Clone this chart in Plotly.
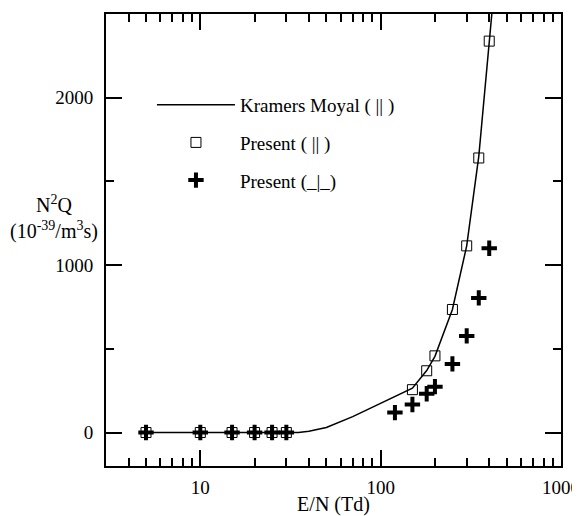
import plotly.graph_objects as go

# Kramers-Moyal curve (parallel)
E_km = [5, 10, 20, 30, 35, 40, 50, 70, 100, 120, 150, 180, 200, 250, 300, 350, 400, 420]
Q_km = [0, 0, 0, 0, 0, 8, 30, 95, 175, 215, 265, 370, 455, 735, 1115, 1650, 2350, 2580]

# Present (parallel) - open squares
E_par = [5, 10, 15, 20, 25, 30, 150, 180, 200, 250, 300, 350, 400]
Q_par = [0, 0, 0, 0, 0, 0, 256, 369, 458, 735, 1115, 1640, 2338]

# Present (perpendicular) - crosses
E_perp = [5, 10, 15, 20, 25, 30, 120, 150, 180, 200, 250, 300, 350, 400]
Q_perp = [0, 0, 0, 0, 0, 0, 119, 167, 232, 274, 410, 577, 804, 1101]

x_tickvals = [10, 100, 1000]
x_ticktext = ["10", "100", "1000"]
x_minor = [4, 5, 6, 7, 8, 9, 20, 30, 40, 50, 60, 70, 80, 90,
           200, 300, 400, 500, 600, 700, 800, 900]
y_tickvals = [0, 1000, 2000]
y_minor = [-500, 500, 1500, 2500]

FONT = "Liberation Serif, Times New Roman, serif"

fig = go.Figure()
fig.add_trace(go.Scatter(
    x=E_km, y=Q_km, mode="lines", name="Kramers Moyal ( || )",
    line=dict(color="black", width=1.5), legendgroup="a", legendrank=1))
fig.add_trace(go.Scatter(
    x=E_perp, y=Q_perp, mode="markers", name="Present (_|_)",
    marker=dict(symbol="cross-thin-open", size=11, color="black",
                line=dict(color="black", width=4)),
    legendgroup="c", legendrank=3))
fig.add_trace(go.Scatter(
    x=E_par, y=Q_par, mode="markers", name="Present ( || )",
    marker=dict(symbol="square-open", size=10, color="black",
                line=dict(color="black", width=1)),
    legendgroup="b", legendrank=2))

# page body has an 8px margin, so the figure is 8px smaller and shifted
fig.update_layout(
    width=572, height=508,
    margin=dict(l=98, r=19, t=6, b=50, autoexpand=False),
    plot_bgcolor="white", paper_bgcolor="white",
    font=dict(family=FONT, size=19, color="black"),
    showlegend=True,
    legend=dict(x=0.101, y=0.841, xanchor="left", yanchor="top",
                bgcolor="rgba(0,0,0,0)", itemwidth=78, tracegroupgap=10,
                font=dict(family=FONT, size=19, color="black")),
    xaxis=dict(
        type="log", range=[0.4771, 3], automargin=False,
        tickmode="array", tickvals=x_tickvals, ticktext=x_ticktext,
        ticks="inside", ticklen=16, tickwidth=1.5, tickcolor="black",
        minor=dict(tickmode="array", tickvals=x_minor, ticks="inside",
                   ticklen=8, tickwidth=1.5, tickcolor="black", showgrid=False),
        showline=True, linecolor="black", linewidth=2, mirror="ticks",
        showgrid=False, zeroline=False, ticklabelstandoff=3,
        title=dict(text="E/N (Td)", standoff=2, font=dict(size=20)),
    ),
    yaxis=dict(
        range=[-200, 2500], automargin=False,
        tickmode="array", tickvals=y_tickvals,
        ticks="inside", ticklen=16, tickwidth=1.5, tickcolor="black",
        minor=dict(tickmode="array", tickvals=y_minor, ticks="inside",
                   ticklen=8, tickwidth=1.5, tickcolor="black", showgrid=False),
        showline=True, linecolor="black", linewidth=2, mirror="ticks",
        showgrid=False, zeroline=False, ticklabelstandoff=7,
    ),
    annotations=[dict(
        text="N<sup>2</sup>Q<br>(10<sup>-39</sup>/m<sup>3</sup>s)",
        xref="paper", yref="paper", x=-0.115, y=0.55,
        xanchor="center", yanchor="middle", showarrow=False,
        font=dict(family=FONT, size=20, color="black"), align="center")],
)

fig.write_html("out.html")
